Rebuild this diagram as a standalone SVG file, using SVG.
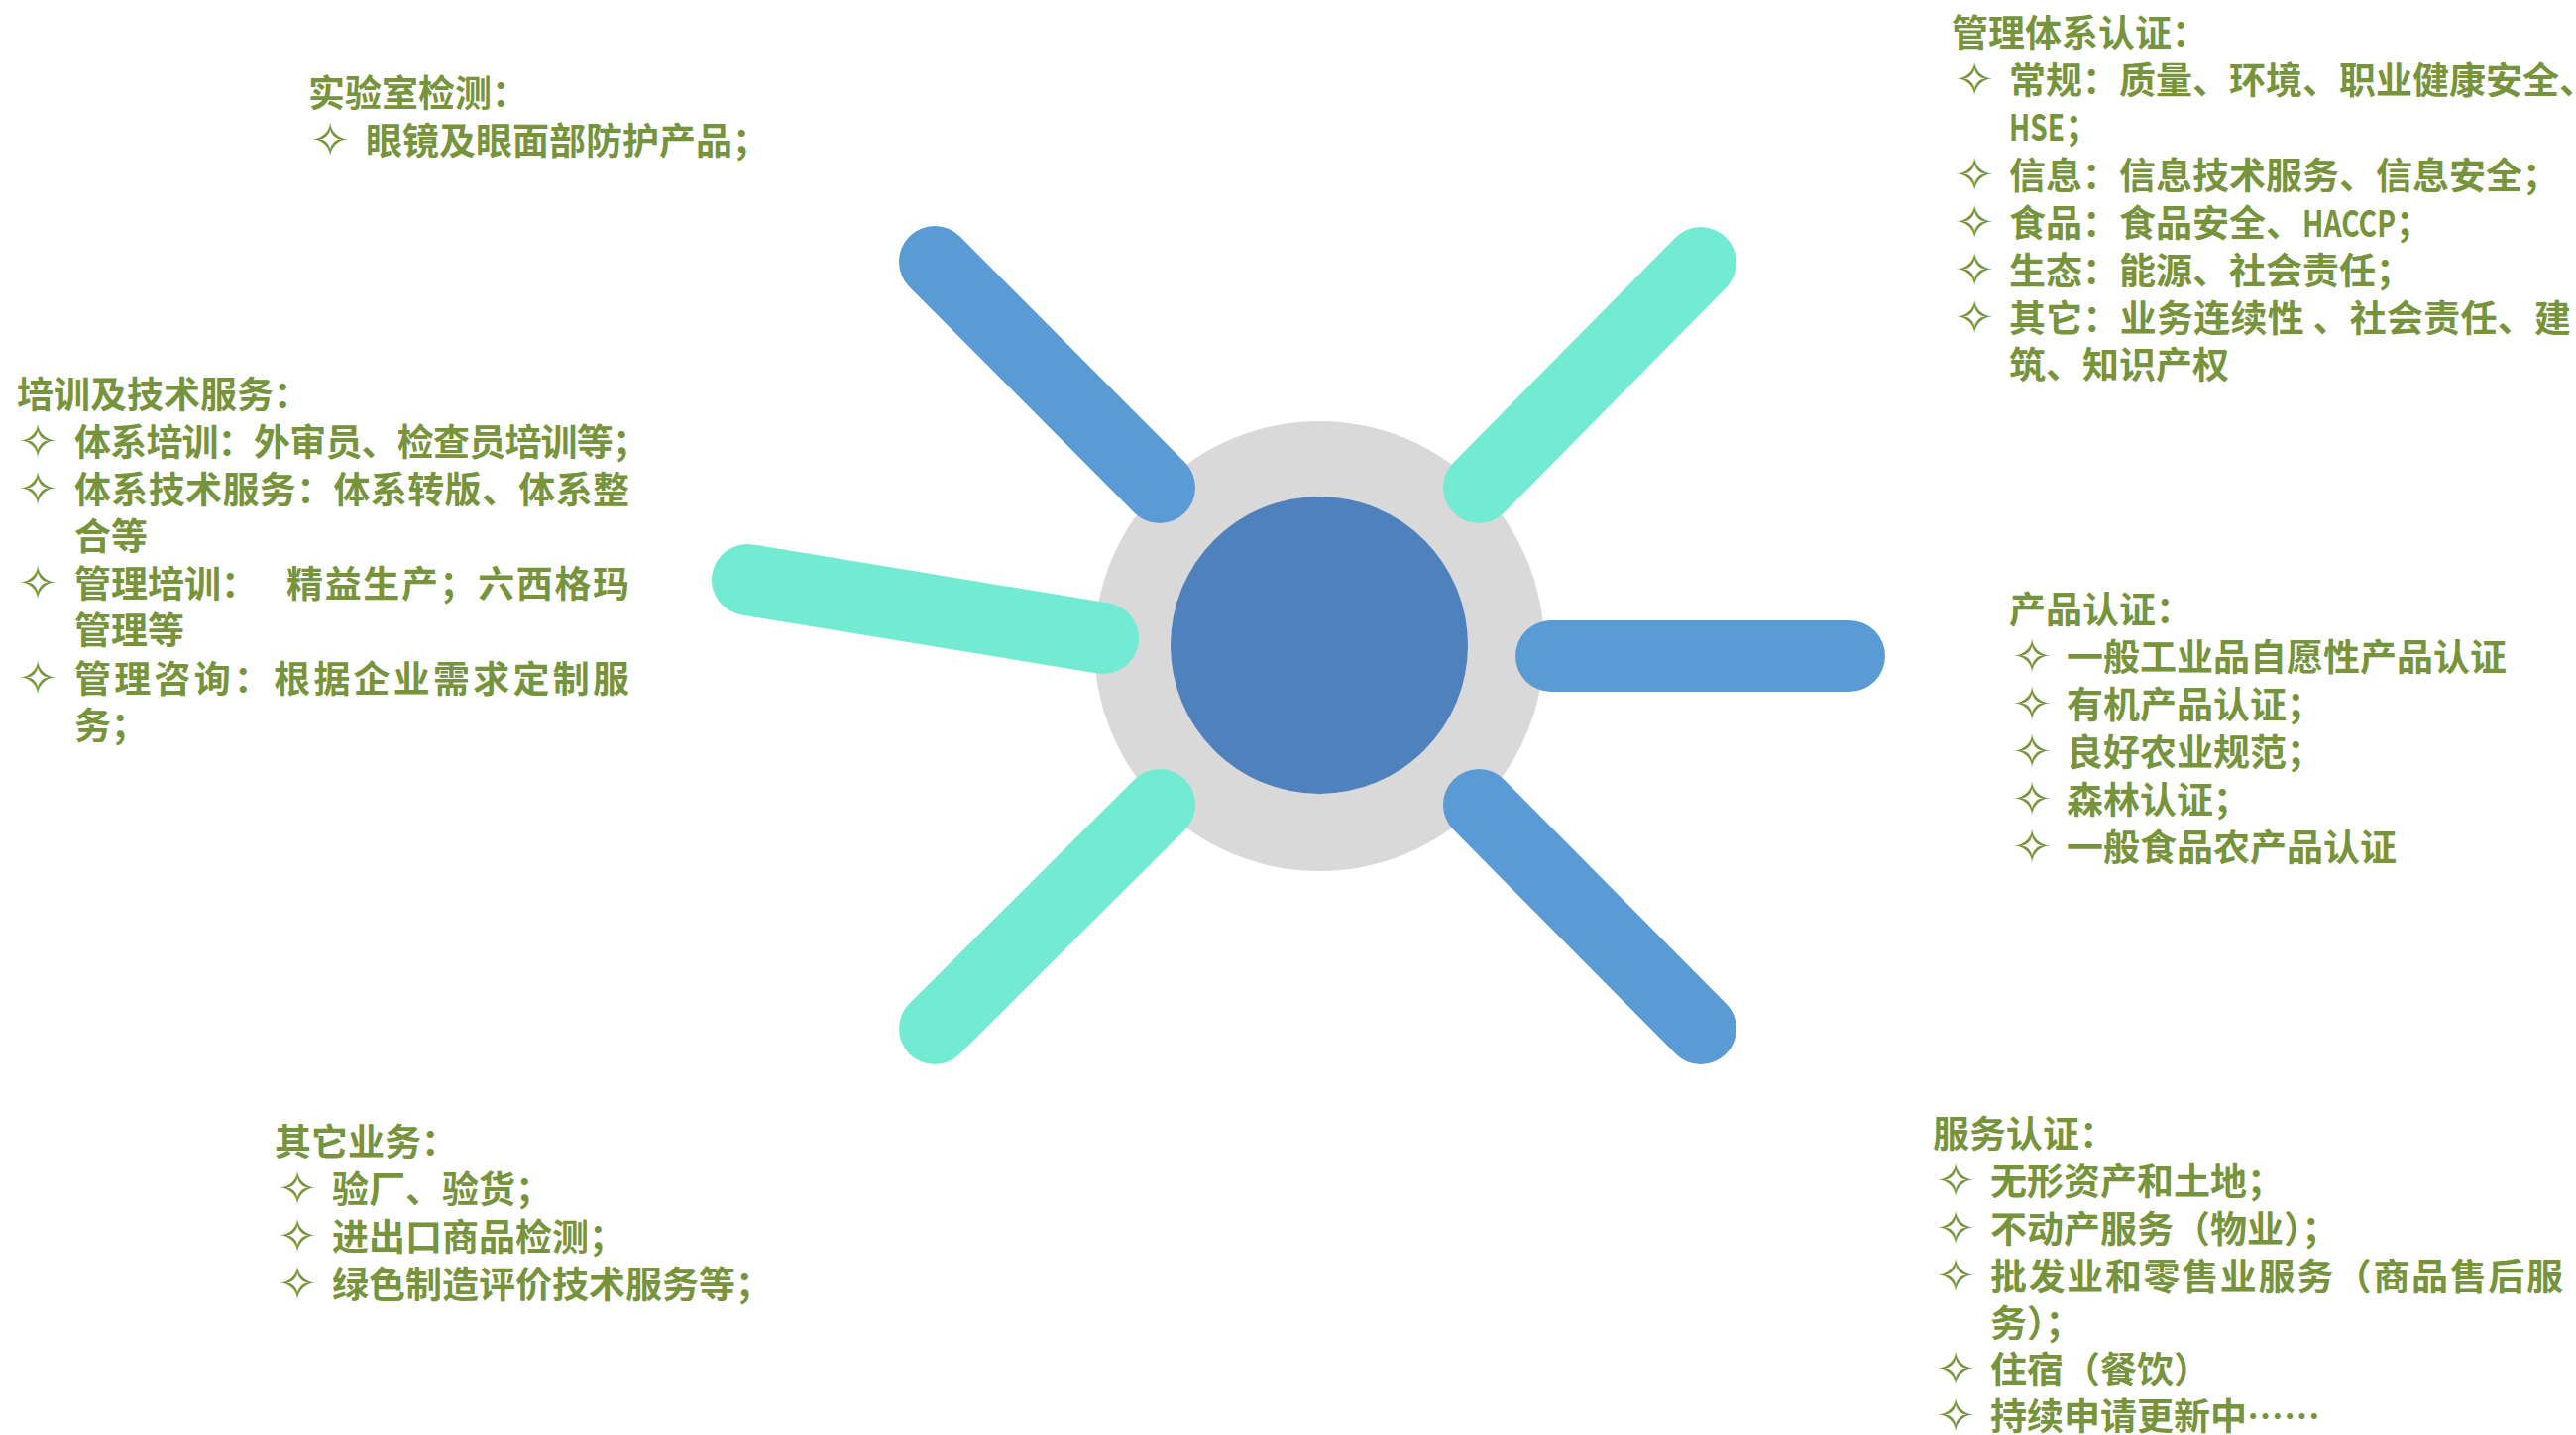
<svg xmlns="http://www.w3.org/2000/svg" width="2599" height="1448" viewBox="0 0 2599 1448">
<style>
.t{font-family:"Noto Sans CJK SC","Noto Sans",sans-serif;font-weight:700;font-size:37px;fill:#77933C}
.b{font-family:"DejaVu Sans",sans-serif;font-size:48px;fill:#77933C}
.sp{fill:none;stroke-width:72;stroke-linecap:round}
.blue{stroke:#5B9BD5}
.teal{stroke:#73EBD2}
</style>
<rect width="2599" height="1448" fill="#FFFFFF"/>
<g id="hub">
<circle cx="1331" cy="652" r="227" fill="#D9D9D9"/>
<circle cx="1331" cy="651" r="150" fill="#4F81BD"/>
</g>
<g id="connectors">
<line class="sp blue" x1="943" y1="264" x2="1170" y2="492"/>
<line class="sp teal" x1="1716" y1="265" x2="1492" y2="492"/>
<line class="sp teal" x1="754" y1="585" x2="1113" y2="644"/>
<line class="sp blue" x1="1565" y1="662" x2="1866" y2="662"/>
<line class="sp teal" x1="1170" y1="812" x2="943" y2="1038"/>
<line class="sp blue" x1="1492" y1="812" x2="1716" y2="1038"/>
</g>
<g id="lab">
<text class="t" x="311" y="108">实验室检测：</text>
<text class="b" x="313" y="158">✧</text>
<text class="t" x="369" y="156">眼镜及眼面部防护产品；</text>
</g>
<g id="training">
<text class="t" x="17" y="412">培训及技术服务：</text>
<text class="b" x="18" y="462">✧</text>
<text class="t" x="75" y="460" textLength="580" lengthAdjust="spacing">体系培训：外审员、检查员培训等；</text>
<text class="b" x="18" y="510">✧</text>
<text class="t" x="75" y="508" textLength="560" lengthAdjust="spacing">体系技术服务：体系转版、体系整</text>
<text class="t" x="75" y="555">合等</text>
<text class="b" x="18" y="605">✧</text>
<text class="t" x="75" y="603">管理培训：</text>
<text class="t" x="289" y="603" textLength="346" lengthAdjust="spacing">精益生产；六西格玛</text>
<text class="t" x="75" y="650">管理等</text>
<text class="b" x="18" y="701">✧</text>
<text class="t" x="75" y="699" textLength="560" lengthAdjust="spacing">管理咨询：根据企业需求定制服</text>
<text class="t" x="75" y="746">务；</text>
</g>
<g id="mgmt">
<text class="t" x="1969" y="47">管理体系认证：</text>
<text class="b" x="1972" y="97">✧</text>
<text class="t" x="2027" y="95">常规：质量、环境、职业健康安全、</text>
<text class="t" x="2027" y="142"><tspan textLength="56" lengthAdjust="spacingAndGlyphs">HSE</tspan>；</text>
<text class="b" x="1972" y="193">✧</text>
<text class="t" x="2027" y="191">信息：信息技术服务、信息安全；</text>
<text class="b" x="1972" y="241">✧</text>
<text class="t" x="2027" y="239">食品：食品安全、<tspan textLength="94" lengthAdjust="spacingAndGlyphs">HACCP</tspan>；</text>
<text class="b" x="1972" y="289">✧</text>
<text class="t" x="2027" y="287">生态：能源、社会责任；</text>
<text class="b" x="1972" y="337">✧</text>
<text class="t" x="2027" y="335" textLength="567" lengthAdjust="spacing">其它：业务连续性 、社会责任、建</text>
<text class="t" x="2027" y="382">筑、知识产权</text>
</g>
<g id="product">
<text class="t" x="2027" y="629">产品认证：</text>
<text class="b" x="2030" y="679">✧</text>
<text class="t" x="2085" y="677">一般工业品自愿性产品认证</text>
<text class="b" x="2030" y="727">✧</text>
<text class="t" x="2085" y="725">有机产品认证；</text>
<text class="b" x="2030" y="775">✧</text>
<text class="t" x="2085" y="773">良好农业规范；</text>
<text class="b" x="2030" y="823">✧</text>
<text class="t" x="2085" y="821">森林认证；</text>
<text class="b" x="2030" y="871">✧</text>
<text class="t" x="2085" y="869">一般食品农产品认证</text>
</g>
<g id="other">
<text class="t" x="277" y="1166">其它业务：</text>
<text class="b" x="280" y="1216">✧</text>
<text class="t" x="335" y="1214">验厂、验货；</text>
<text class="b" x="280" y="1264">✧</text>
<text class="t" x="335" y="1262">进出口商品检测；</text>
<text class="b" x="280" y="1312">✧</text>
<text class="t" x="335" y="1310">绿色制造评价技术服务等；</text>
</g>
<g id="service">
<text class="t" x="1950" y="1158">服务认证：</text>
<text class="b" x="1953" y="1208">✧</text>
<text class="t" x="2008" y="1206">无形资产和土地；</text>
<text class="b" x="1953" y="1256">✧</text>
<text class="t" x="2008" y="1254">不动产服务（物业）；</text>
<text class="b" x="1953" y="1304">✧</text>
<text class="t" x="2008" y="1302" textLength="578" lengthAdjust="spacing">批发业和零售业服务（商品售后服</text>
<text class="t" x="2008" y="1349">务）；</text>
<text class="b" x="1953" y="1398">✧</text>
<text class="t" x="2008" y="1396">住宿（餐饮）</text>
<text class="b" x="1953" y="1445">✧</text>
<text class="t" x="2008" y="1443">持续申请更新中……</text>
</g>
</svg>
